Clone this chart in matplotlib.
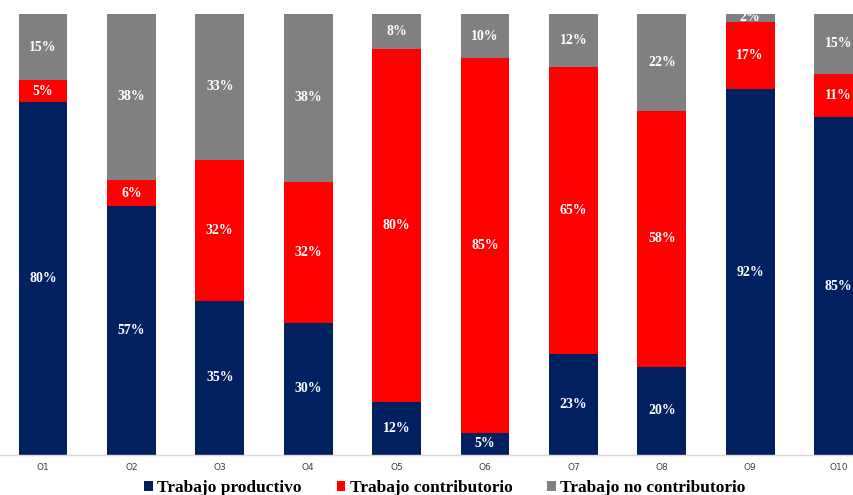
import matplotlib
matplotlib.use("Agg")
import matplotlib.pyplot as plt
import numpy as np

categories = ["O1", "O2", "O3", "O4", "O5", "O6", "O7", "O8", "O9", "O10"]
productivo = [80, 57, 35, 30, 12, 5, 23, 20, 92, 85]
contributorio = [5, 6, 32, 32, 80, 85, 65, 58, 17, 11]
no_contributorio = [15, 38, 33, 38, 8, 10, 12, 22, 2, 15]
series_names = ["Trabajo productivo", "Trabajo contributorio", "Trabajo no contributorio"]
colors = ["#002060", "#FF0000", "#808080"]

data = np.array([productivo, contributorio, no_contributorio], dtype=float)
totals = data.sum(axis=0)
shares = data / totals * 100

fig = plt.figure(figsize=(8.54, 4.95), dpi=100)
ax = fig.add_axes([0, 1 - 455 / 495, 1, 441 / 495])

x = np.arange(len(categories))
width = 0.554
bottom = np.zeros(len(categories))
for k in range(3):
    ax.bar(x, shares[k], width, bottom=bottom, color=colors[k], label=series_names[k], zorder=2)
    for i in range(len(categories)):
        yc = bottom[i] + shares[k][i] / 2
        ax.text(x[i], yc, f"{int(data[k][i])}%", ha="center", va="center", color="white",
                fontsize=10, fontweight="bold", family="Liberation Serif", zorder=3)
    bottom += shares[k]

ax.set_ylim(0, 100)
ax.set_xlim(-43 / 88.4, (854 - 43) / 88.4)
ax.set_yticks([])
ax.set_xticks(x)
ax.set_xticklabels(categories, fontsize=6.5, color="#404040")
ax.tick_params(axis="x", length=0, pad=6)
for s in ["top", "left", "right"]:
    ax.spines[s].set_visible(False)
ax.spines["bottom"].set_color("#d9d9d9")
ax.spines["bottom"].set_linewidth(1)

fig.legend(loc="center", bbox_to_anchor=(445 / 854, 1 - 488 / 495), ncol=3, frameon=False,
           prop={"family": "Liberation Serif", "weight": "bold", "size": 12.5},
           handlelength=0.5, handleheight=0.5, handletextpad=0.25, columnspacing=2.0,
           borderaxespad=0, borderpad=0)

fig.savefig("out.png", dpi=100)
